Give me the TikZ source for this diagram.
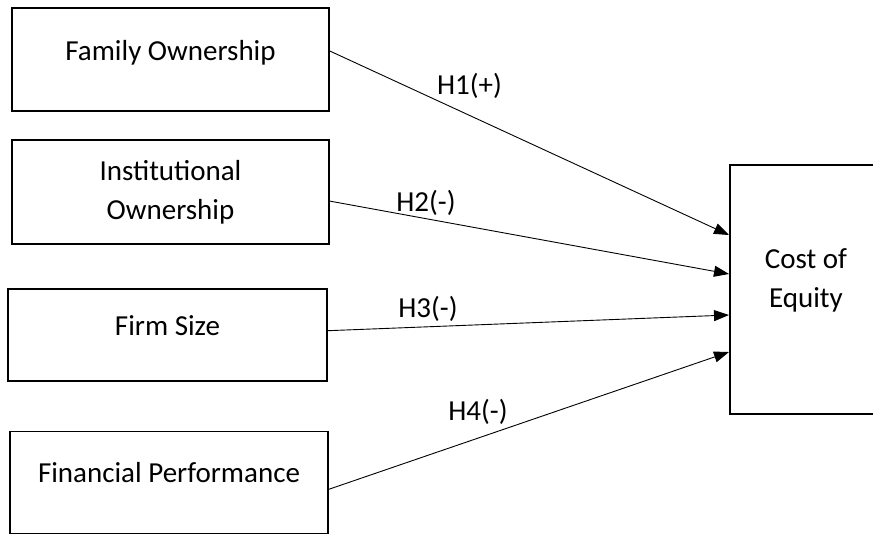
\documentclass[tikz,border=0pt]{standalone}
\usepackage{fontspec}
\setmainfont{Carlito}
\usetikzlibrary{positioning,arrows.meta}

\begin{document}
\begin{tikzpicture}[x=1pt, y=1pt,
        every node/.style = {font=\fontsize{29}{39}\selectfont},
        box/.style = {draw, line width=1.6pt, minimum width=317pt, minimum height=103pt, inner sep=0pt},
        raised/.style = {text height=20pt, text depth=19pt},
        arr/.style = {-{Triangle[length=15pt, width=11pt]}, line width=0.9pt}
        ]
        \useasboundingbox (0,0) rectangle (873,-536);
        \clip (0,0) rectangle (873,-536);
        % predictors
        \node[box, raised] (fam) at (170.5,-59.5) {Family Ownership};
        \node[box, align=center, minimum height=104pt] (ins) [below=27.5pt of fam] {Institutional\\Ownership};
        \node[box, raised, minimum height=92pt, minimum width=319pt] (firm) [below=43pt of ins, xshift=-3pt] {Firm Size};
        \node[box, raised, minimum height=102pt, minimum width=318pt] (fin) [below=49pt of firm, xshift=1.5pt] {Financial Performance};
        % outcome (runs past the right edge)
        \node[box, minimum width=200pt, minimum height=249pt, anchor=west] (coe) at (729,-289.5) {};
        \node[align=center] (coetxt) at (806,-280) {Cost of\\Equity};
        % hypotheses
        \draw[arr] ([yshift=8.5pt]fam.east) -- ([yshift=54.5pt]coe.west);
        \draw[arr] ([yshift=-9pt]ins.east) -- ([yshift=15.5pt]coe.west);
        \draw[arr] ([yshift=4pt]firm.east) -- ([yshift=-25.5pt]coe.west);
        \draw[arr] ([yshift=-7pt]fin.east) -- ([yshift=-62.5pt]coe.west);
        \node (h1) at (469.5,-86) {H1(+)};
        \node (h2) at (426,-203) {H2(-)};
        \node (h3) at (428,-309) {H3(-)};
        \node (h4) at (478,-412) {H4(-)};
\end{tikzpicture}
\end{document}
